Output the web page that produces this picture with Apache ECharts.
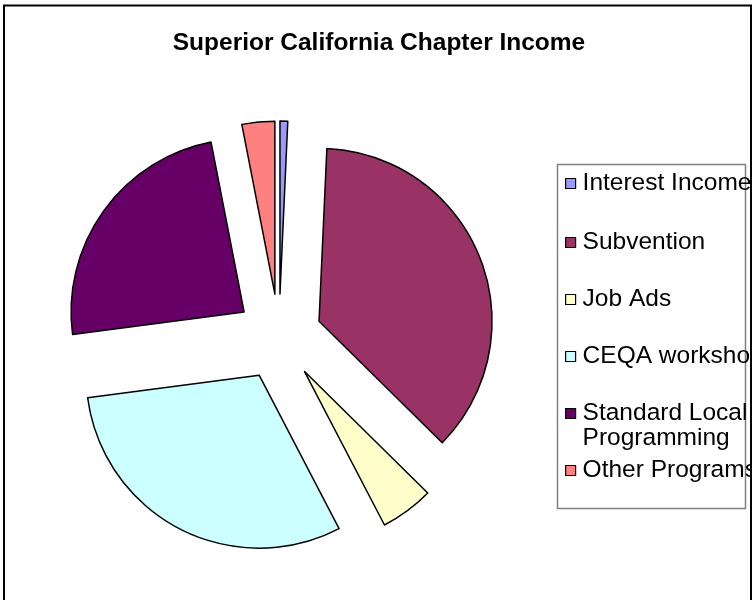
<!DOCTYPE html>
<html>
<head>
<meta charset="utf-8">
<script src="https://cdn.jsdelivr.net/npm/echarts@6/dist/echarts.min.js"></script>
<style>html,body{margin:0;padding:0;background:#fff}#c{width:752px;height:600px}</style>
</head>
<body>
<div id="c"></div>
<script>
const categories = ['Interest Income', 'Subvention', 'Job Ads', 'CEQA workshop', 'Standard Local\nProgramming', 'Other Programs'];
const values = [0.72, 36.67, 4.97, 30.56, 24.03, 3.06];
const colors = ['#9999FF', '#993366', '#FFFFCC', '#CCFFFF', '#660066', '#FF8080'];
const titleText = 'Superior California Chapter Income';

const FONT = "'Liberation Sans', Arial, sans-serif";
const legendCenters = [183, 242, 299, 356, 413, 470];

const chart = echarts.init(document.getElementById('c'), null, {renderer: 'canvas'});

const legends = categories.map((name, i) => {
  const multi = name.indexOf('\n') >= 0;
  return {
    data: [name],
    orient: 'vertical',
    left: 565,
    top: Math.round(legendCenters[i] - (multi ? 37.5 : 12.5) + 0.5),
    padding: 0,
    itemWidth: 10,
    itemHeight: 10,
    icon: 'rect',
    selectedMode: false,
    formatter: n => (n.indexOf('\n') >= 0 ? '\n' + n : n),
    itemStyle: {borderColor: '#000', borderWidth: 1.2},
    textStyle: {
      fontFamily: FONT, fontSize: 24.5, color: '#000', lineHeight: 25,
      padding: [0, 0, 0, 2]
    }
  };
});

chart.setOption({
  animation: false,
  backgroundColor: '#fff',
  title: {
    text: titleText,
    left: 379,
    textAlign: 'center',
    top: 31,
    padding: 0,
    textStyle: {fontFamily: FONT, fontSize: 24.5, fontWeight: 'bold', color: '#000'}
  },
  graphic: [
    {type: 'rect', shape: {x: 4, y: 5.5, width: 747, height: 610}, style: {fill: null, stroke: '#000', lineWidth: 2}, z: -10},
    {type: 'rect', shape: {x: 557.5, y: 164.5, width: 188, height: 344}, style: {fill: null, stroke: '#808080', lineWidth: 1.5}, z: -5}
  ],
  legend: legends,
  series: [{
    type: 'pie',
    center: [279, 337],
    radius: [0, 173],
    startAngle: 90,
    clockwise: true,
    selectedMode: 'multiple',
    selectedOffset: 43,
    label: {show: false},
    labelLine: {show: false},
    emphasis: {disabled: true},
    itemStyle: {borderColor: '#000', borderWidth: 1.5},
    data: categories.map((n, i) => ({name: n, value: values[i], selected: true, itemStyle: {color: colors[i]}}))
  }]
});
</script>
</body>
</html>
